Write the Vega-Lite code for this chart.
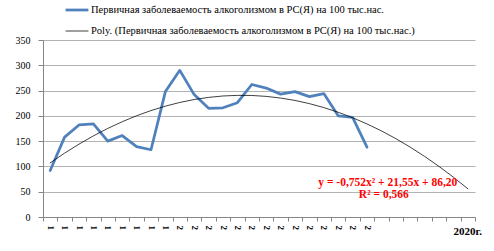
{
  "$schema": "https://vega.github.io/schema/vega-lite/v6.json",
  "width": 432,
  "height": 177,
  "autosize": "none",
  "padding": {"left": 43, "top": 40, "right": 19, "bottom": 34},
  "background": "white",
  "config": {
    "view": {"stroke": null},
    "font": "Liberation Serif",
    "axisY": {"tickCount": 8, "labelOverlap": false}
  },
  "layer": [
    {
      "data": {
        "values": [
          {"year": 1991, "series": "A", "value": 92},
          {"year": 1992, "series": "A", "value": 158},
          {"year": 1993, "series": "A", "value": 182},
          {"year": 1994, "series": "A", "value": 184},
          {"year": 1995, "series": "A", "value": 150},
          {"year": 1996, "series": "A", "value": 161},
          {"year": 1997, "series": "A", "value": 139},
          {"year": 1998, "series": "A", "value": 133},
          {"year": 1999, "series": "A", "value": 248},
          {"year": 2000, "series": "A", "value": 290},
          {"year": 2001, "series": "A", "value": 242},
          {"year": 2002, "series": "A", "value": 215},
          {"year": 2003, "series": "A", "value": 216},
          {"year": 2004, "series": "A", "value": 226},
          {"year": 2005, "series": "A", "value": 262},
          {"year": 2006, "series": "A", "value": 255},
          {"year": 2007, "series": "A", "value": 243},
          {"year": 2008, "series": "A", "value": 248},
          {"year": 2009, "series": "A", "value": 238},
          {"year": 2010, "series": "A", "value": 244},
          {"year": 2011, "series": "A", "value": 200},
          {"year": 2012, "series": "A", "value": 197},
          {"year": 2013, "series": "A", "value": 138},
          {"year": 1991, "series": "B", "value": 107.0},
          {"year": 1992, "series": "B", "value": 126.3},
          {"year": 1993, "series": "B", "value": 144.1},
          {"year": 1994, "series": "B", "value": 160.4},
          {"year": 1995, "series": "B", "value": 175.2},
          {"year": 1996, "series": "B", "value": 188.4},
          {"year": 1997, "series": "B", "value": 200.2},
          {"year": 1998, "series": "B", "value": 210.5},
          {"year": 1999, "series": "B", "value": 219.2},
          {"year": 2000, "series": "B", "value": 226.5},
          {"year": 2001, "series": "B", "value": 232.3},
          {"year": 2002, "series": "B", "value": 236.5},
          {"year": 2003, "series": "B", "value": 239.3},
          {"year": 2004, "series": "B", "value": 240.5},
          {"year": 2005, "series": "B", "value": 240.3},
          {"year": 2006, "series": "B", "value": 238.5},
          {"year": 2007, "series": "B", "value": 235.2},
          {"year": 2008, "series": "B", "value": 230.5},
          {"year": 2009, "series": "B", "value": 224.2},
          {"year": 2010, "series": "B", "value": 216.4},
          {"year": 2011, "series": "B", "value": 207.1},
          {"year": 2012, "series": "B", "value": 196.3},
          {"year": 2013, "series": "B", "value": 184.0},
          {"year": 2014, "series": "B", "value": 170.3},
          {"year": 2015, "series": "B", "value": 155.0},
          {"year": 2016, "series": "B", "value": 138.2},
          {"year": 2017, "series": "B", "value": 119.8},
          {"year": 2018, "series": "B", "value": 100.0},
          {"year": 2019, "series": "B", "value": 78.7},
          {"year": 2020, "series": "B", "value": 55.9}
        ]
      },
      "mark": {"type": "line", "strokeCap": "round", "strokeJoin": "round"},
      "encoding": {
        "x": {
          "field": "year",
          "type": "ordinal",
          "bandPosition": 0.5,
          "scale": {"type": "band", "paddingInner": 0, "paddingOuter": 0},
          "axis": {
            "title": null,
            "tickBand": "extent",
            "labelExpr": "datum.value <= 2013 ? substring(datum.label, 0, 1) : ''",
            "labelAngle": 90,
            "labelAlign": "left",
            "labelBaseline": "middle",
            "labelFont": "Liberation Serif",
            "labelFontSize": 9,
            "labelFontWeight": "bold",
            "labelColor": "#000000",
            "labelPadding": 4,
            "labelOverlap": false,
            "domainColor": "#868686",
            "tickColor": "#868686",
            "tickSize": 4,
            "grid": false
          }
        },
        "y": {
          "field": "value",
          "type": "quantitative",
          "scale": {"domain": [0, 350], "nice": false},
          "axis": {
            "title": null,
            "values": [0, 50, 100, 150, 200, 250, 300, 350],
            "tickCount": 8,
            "labelOverlap": false,
            "labelFont": "Liberation Serif",
            "labelFontSize": 10,
            "labelColor": "#000000",
            "labelPadding": 8,
            "domainColor": "#868686",
            "tickColor": "#868686",
            "tickSize": 5,
            "gridColor": "#b3b3b3",
            "gridWidth": 1
          }
        },
        "color": {
          "field": "series",
          "type": "nominal",
          "scale": {"domain": ["A", "B"], "range": ["#4f81bd", "#000000"]},
          "legend": {
            "title": null,
            "orient": "none",
            "legendX": 21,
            "legendY": -43,
            "direction": "vertical",
            "symbolType": "stroke",
            "symbolSize": 520,
            "labelOffset": 1,
            "labelFont": "Liberation Serif",
            "labelFontSize": 10.5,
            "labelColor": "#000000",
            "labelLimit": 0,
            "rowPadding": 3,
            "labelExpr": "datum.value == 'A' ? 'Первичная заболеваемость алкоголизмом в РС(Я) на 100 тыс.нас.' : 'Poly. (Первичная заболеваемость алкоголизмом в РС(Я) на 100 тыс.нас.)'"
          }
        },
        "strokeWidth": {
          "field": "series",
          "type": "nominal",
          "scale": {"domain": ["A", "B"], "range": [2.75, 0.75]}
        }
      }
    },
    {
      "data": {"values": [{}]},
      "mark": {"type": "text", "font": "Liberation Serif", "fontSize": 11.5, "fontWeight": "bold", "color": "#ff0000", "align": "center", "baseline": "middle", "dx": -8},
      "encoding": {
        "x": {"datum": 2015, "type": "ordinal"},
        "y": {"datum": 67, "type": "quantitative"},
        "text": {"value": "y = -0,752x² + 21,55x + 86,20"}
      }
    },
    {
      "data": {"values": [{}]},
      "mark": {"type": "text", "font": "Liberation Serif", "fontSize": 11.5, "fontWeight": "bold", "color": "#ff0000", "align": "center", "baseline": "middle", "dx": -12},
      "encoding": {
        "x": {"datum": 2015, "type": "ordinal"},
        "y": {"datum": 44, "type": "quantitative"},
        "text": {"value": "R² = 0,566"}
      }
    },
    {
      "data": {"values": [{}]},
      "mark": {"type": "text", "font": "Liberation Serif", "fontSize": 11, "fontWeight": "bold", "color": "#000000", "align": "center", "baseline": "middle", "dy": 15},
      "encoding": {
        "x": {"datum": 2020, "type": "ordinal"},
        "y": {"datum": 0, "type": "quantitative"},
        "text": {"value": "2020г."}
      }
    }
  ]
}
